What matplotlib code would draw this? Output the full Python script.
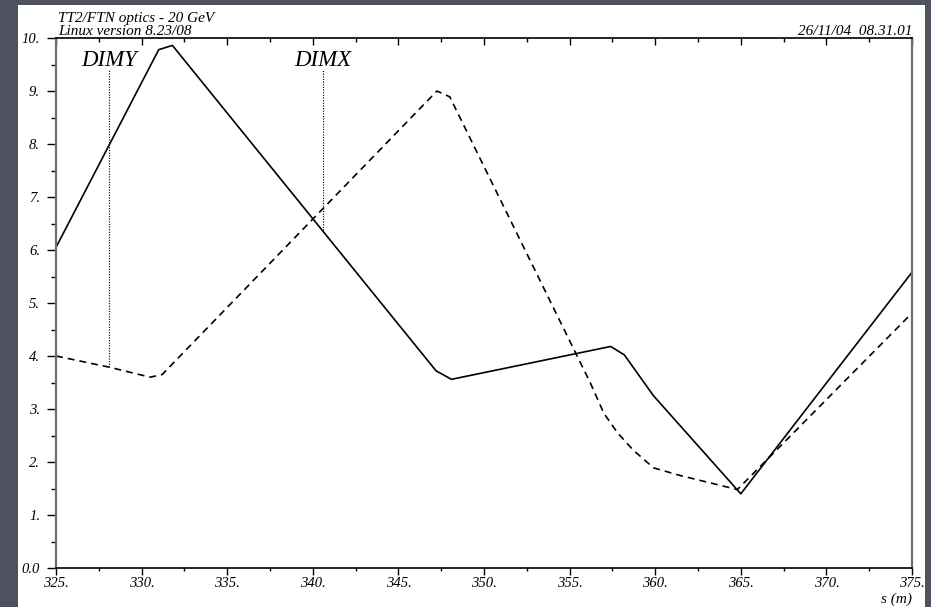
import matplotlib
matplotlib.use("Agg")
import matplotlib.pyplot as plt
from matplotlib.patches import Rectangle

# beam size traces along s (m)
solid_s = [325.0, 331.0, 331.8, 347.2, 348.1, 357.4, 358.2, 359.9, 365.0, 375.0]
solid_v = [6.05, 9.78, 9.86, 3.72, 3.56, 4.18, 4.02, 3.25, 1.40, 5.58]

dash_s = [325.0, 328.1, 330.5, 331.2, 347.25, 348.0, 356.2, 357.0, 357.8, 358.7, 359.9, 361.4, 364.8, 375.0]
dash_v = [4.0, 3.79, 3.60, 3.65, 9.0, 8.89, 3.50, 2.92, 2.55, 2.23, 1.89, 1.75, 1.48, 4.81]

# monitor markers
mon_names = ["DIMY", "DIMX"]
mon_s = [328.1, 340.6]
mon_low = [3.79, 6.38]

xticks = [325, 330, 335, 340, 345, 350, 355, 360, 365, 370, 375]
xlabels = ["325.", "330.", "335.", "340.", "345.", "350.", "355.", "360.", "365.", "370.", "375."]
yticks = [0, 1, 2, 3, 4, 5, 6, 7, 8, 9, 10]
ylabels = ["0.0", "1.", "2.", "3.", "4.", "5.", "6.", "7.", "8.", "9.", "10."]

plt.rcParams["font.family"] = ["Liberation Serif", "DejaVu Serif"]
plt.rcParams["font.style"] = "italic"
plt.rcParams["lines.scale_dashes"] = False

W, H = 931, 607
fig = plt.figure(figsize=(W / 100, H / 100), dpi=100, facecolor="#4d5160")
fig.patches.append(Rectangle((18 / W, 0), (925 - 18) / W, (H - 5) / H,
                             transform=fig.transFigure, facecolor="white",
                             edgecolor="none", zorder=-10))

ax = fig.add_axes([56 / W, 39 / H, 856 / W, 530 / H])
ax.set_facecolor("white")

ax.plot(solid_s, solid_v, color="black", lw=1.2)
ax.plot(dash_s, dash_v, color="black", lw=1.2, dashes=(5, 3.6))

for name, s, lo in zip(mon_names, mon_s, mon_low):
    ax.plot([s, s], [lo, 9.42], color="black", lw=0.85, dashes=(0.8, 1.1))
    ax.text(s, 9.47, name, ha="center", va="baseline", fontsize=16.5)

ax.set_xlim(325, 375)
ax.set_ylim(0, 10)
ax.set_xticks(xticks)
ax.set_xticklabels(xlabels, fontsize=10.5)
ax.set_xticks([327.5 + 5 * i for i in range(10)], minor=True)
ax.set_yticks(yticks)
ax.set_yticklabels(ylabels, fontsize=10.5)
ax.set_yticks([0.5 + i for i in range(10)], minor=True)

ax.tick_params(axis="y", which="major", direction="out", length=6.5, width=1, pad=5)
ax.tick_params(axis="y", which="minor", direction="out", length=3.6, width=1)
ax.tick_params(axis="x", which="major", direction="out", length=5, width=1, pad=1.5)
ax.tick_params(axis="x", which="minor", direction="out", length=2.5, width=1)

top = ax.secondary_xaxis("top")
top.set_xticks(xticks)
top.set_xticks([327.5 + 5 * i for i in range(10)], minor=True)
top.tick_params(which="major", direction="in", length=5, width=1, labeltop=False)
top.tick_params(which="minor", direction="in", length=3, width=1)
top.spines["top"].set_visible(False)

ax.spines["left"].set_color("#6e6e6e")
ax.spines["left"].set_linewidth(1.6)
ax.spines["right"].set_color("#6e6e6e")
ax.spines["right"].set_linewidth(1.6)
ax.spines["bottom"].set_linewidth(1.2)
ax.spines["top"].set_linewidth(1.2)

fig.text(58 / W, 1 - 22 / H, "TT2/FTN optics - 20 GeV", fontsize=11, ha="left", va="baseline")
fig.text(58 / W, 1 - 35 / H, "Linux version 8.23/08", fontsize=11, ha="left", va="baseline")
fig.text(912 / W, 1 - 35 / H, "26/11/04  08.31.01", fontsize=11, ha="right", va="baseline")
fig.text(912 / W, 1 - 603 / H, "s (m)", fontsize=11, ha="right", va="baseline")

fig.savefig("out.png", dpi=100, facecolor=fig.get_facecolor())
